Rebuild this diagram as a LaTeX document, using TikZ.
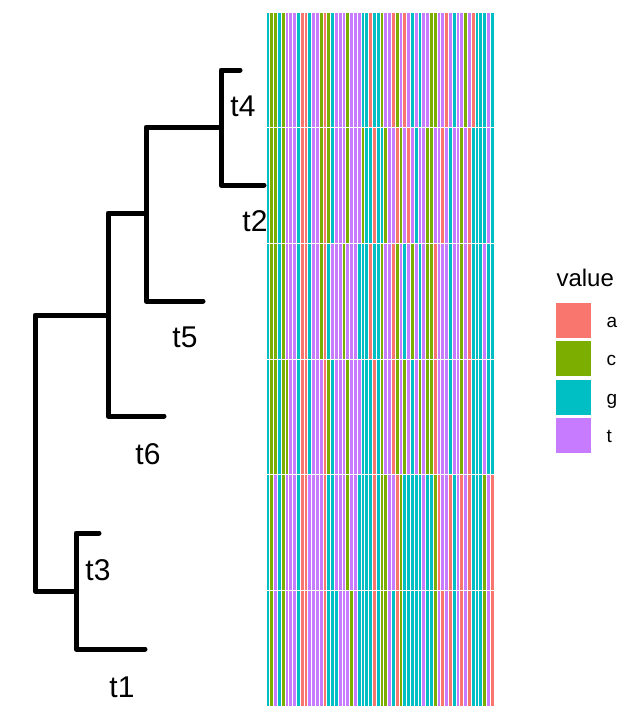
\documentclass[tikz,border=0pt]{standalone}
\usepackage{fontspec}
\setmainfont{Liberation Sans}
\definecolor{basea}{HTML}{F8766D}
\definecolor{basec}{HTML}{7CAE00}
\definecolor{baseg}{HTML}{00BFC4}
\definecolor{baset}{HTML}{C77CFF}

\begin{document}
\begin{tikzpicture}[x=1pt,y=-1pt,
  branch/.style={line width=5pt,line cap=round,line join=round},
  tiplab/.style={anchor=base,font=\fontsize{30}{32}\selectfont},
  keybox/.style={minimum width=36pt,minimum height=36pt,inner sep=0pt,draw=white,line width=0.6pt},
  keylab/.style={anchor=base west,font=\fontsize{19}{21}\selectfont}]
  \useasboundingbox (0,0) rectangle (640,720);

  \foreach \r/\seq in {
    0/{g,c,c,g,c,t,t,t,g,a,a,g,t,t,c,a,c,g,t,t,t,c,t,t,t,g,g,a,g,g,c,t,t,a,c,t,a,t,g,t,g,t,t,c,c,t,t,a,t,g,t,t,c,t,a,g,g,g,t,g},
    1/{g,c,c,g,c,t,t,t,g,a,a,g,t,t,c,a,c,g,t,t,t,c,t,t,t,c,g,g,a,g,g,c,t,t,a,c,t,a,t,g,t,t,c,c,t,t,a,t,g,t,t,c,t,a,g,g,g,g,t,g},
    2/{g,c,c,g,c,t,t,t,g,a,a,g,t,t,c,a,g,t,t,t,c,t,t,t,g,g,g,a,g,g,c,t,t,a,c,t,g,t,c,t,g,t,c,c,a,t,t,t,g,t,t,c,t,a,g,g,g,t,g,g},
    3/{g,c,c,g,c,c,t,t,g,a,a,g,t,t,t,a,c,g,t,t,t,c,t,t,t,g,g,g,a,g,c,t,t,a,c,t,c,t,g,t,c,t,c,c,a,t,t,t,g,t,t,c,t,a,g,g,g,t,g,g},
    4/{g,c,t,g,c,t,t,t,g,a,a,t,t,t,t,a,g,g,t,t,t,c,t,t,g,g,g,g,a,g,c,c,t,t,a,c,g,g,g,g,g,t,g,g,c,a,t,t,a,g,t,a,t,a,g,g,g,c,t,a},
    5/{g,c,t,g,c,t,t,t,g,a,a,t,t,t,t,a,g,g,g,t,t,t,c,t,g,g,g,g,a,g,c,c,t,g,a,c,g,g,g,g,g,t,g,g,c,t,a,t,a,g,t,a,t,a,g,g,g,c,t,a}}
  {
    \foreach \b [count=\i from 0] in \seq
      \fill[base\b,draw=white,line width=0.7pt] ({266+3.8*\i},{12+115.67*\r}) rectangle ++(3.8,115.67);
  }

  \coordinate (root) at (35,453);
  \coordinate (n1) at (108,315);
  \coordinate (n2) at (76,591);
  \coordinate (n3) at (146,213);
  \coordinate (n4) at (221,127);
  \coordinate (t4) at (240,70);
  \coordinate (t2) at (264,185);
  \coordinate (t5) at (203,301);
  \coordinate (t6) at (164,416);
  \coordinate (t3) at (99,533);
  \coordinate (t1) at (145,649);

  \draw[branch] (root) |- (n1);
  \draw[branch] (root) |- (n2);
  \draw[branch] (n1) |- (n3);
  \draw[branch] (n1) |- (t6);
  \draw[branch] (n3) |- (n4);
  \draw[branch] (n3) |- (t5);
  \draw[branch] (n4) |- (t4);
  \draw[branch] (n4) |- (t2);
  \draw[branch] (n2) |- (t3);
  \draw[branch] (n2) |- (t1);

  \node[tiplab] (lt4) at (243,116) {t4};
  \node[tiplab] (lt2) at (255,231) {t2};
  \node[tiplab] (lt5) at (185,347) {t5};
  \node[tiplab] (lt6) at (148,464) {t6};
  \node[tiplab] (lt3) at (98,580) {t3};
  \node[tiplab] (lt1) at (122,697) {t1};

  \node[anchor=base west,font=\fontsize{24}{26}\selectfont] (title) at (553,286) {value};
  \node[keybox,fill=basea] (ka) at (573,320) {};
  \node[keybox,fill=basec] (kc) at (573,358) {};
  \node[keybox,fill=baseg] (kg) at (573,397) {};
  \node[keybox,fill=baset] (kt) at (573,435) {};
  \node[keylab] (la) at (603,327) {a};
  \node[keylab] (lc) at (603,365) {c};
  \node[keylab] (lg) at (603,404) {g};
  \node[keylab] (lt) at (603,442) {t};
\end{tikzpicture}
\end{document}
